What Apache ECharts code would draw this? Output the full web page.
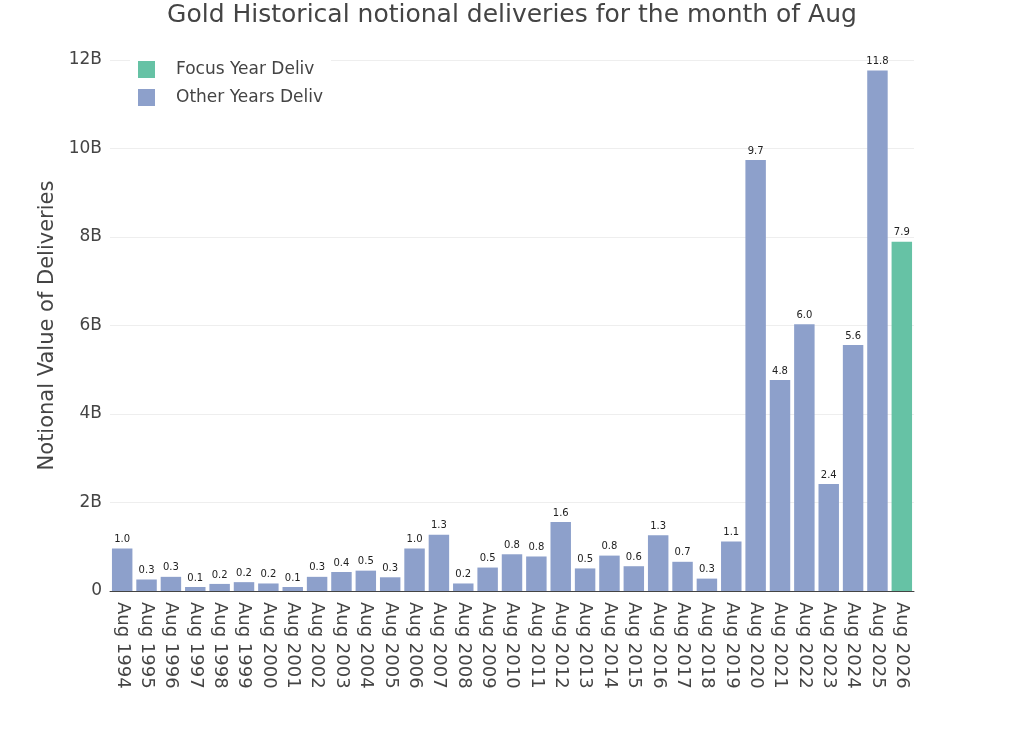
<!DOCTYPE html>
<html>
<head>
<meta charset="utf-8">
<script src="https://cdn.jsdelivr.net/npm/echarts@6/dist/echarts.min.js"></script>
<style>
  html, body { margin: 0; padding: 0; background: #fff; }
  #main { width: 1024px; height: 731px; }
</style>
</head>
<body>
<div id="main"></div>
<script>
// 年份与交割额（单位：十亿美元）
var years = ['Aug 1994', 'Aug 1995', 'Aug 1996', 'Aug 1997', 'Aug 1998', 'Aug 1999', 'Aug 2000',
    'Aug 2001', 'Aug 2002', 'Aug 2003', 'Aug 2004', 'Aug 2005', 'Aug 2006', 'Aug 2007', 'Aug 2008',
    'Aug 2009', 'Aug 2010', 'Aug 2011', 'Aug 2012', 'Aug 2013', 'Aug 2014', 'Aug 2015', 'Aug 2016',
    'Aug 2017', 'Aug 2018', 'Aug 2019', 'Aug 2020', 'Aug 2021', 'Aug 2022', 'Aug 2023', 'Aug 2024',
    'Aug 2025', 'Aug 2026'];

var otherYears = [0.96, 0.26, 0.32, 0.09, 0.16, 0.2, 0.17, 0.09, 0.32, 0.43, 0.46, 0.31, 0.96, 1.27,
    0.17, 0.53, 0.83, 0.78, 1.56, 0.51, 0.8, 0.56, 1.26, 0.66, 0.28, 1.12, 9.74, 4.77, 6.03, 2.42,
    5.56, 11.76, null];

var focusYear = [null, null, null, null, null, null, null, null, null, null, null, null, null, null,
    null, null, null, null, null, null, null, null, null, null, null, null, null, null, null, null,
    null, null, 7.89];

var yTicks = [0, 2, 4, 6, 8, 10, 12];

var myChart = echarts.init(document.getElementById('main'));

var barLabel = {
    show: true,
    position: 'top',
    distance: 4,
    fontSize: 10,
    color: '#222',
    fontFamily: 'DejaVu Sans',
    formatter: function (p) {
        return p.value == null ? '' : p.value.toFixed(1);
    }
};

var option = {
    animation: false,
    textStyle: { fontFamily: 'DejaVu Sans' },
    title: {
        text: 'Gold Historical notional deliveries for the month of Aug',
        left: 'center',
        top: -2,
        textStyle: { fontSize: 25, fontWeight: 'normal', color: '#444', fontFamily: 'DejaVu Sans' }
    },
    legend: {
        data: ['Focus Year Deliv', 'Other Years Deliv'],
        orient: 'vertical',
        left: 130,
        top: 58,
        backgroundColor: '#fff',
        padding: [3, 8, 4, 8],
        itemGap: 11,
        itemWidth: 17,
        itemHeight: 17,
        icon: 'rect',
        textStyle: { fontSize: 17, color: '#444', padding: [0, 0, 0, 16] }
    },
    grid: { left: 110, right: 110, top: 60, bottom: 140, containLabel: false },
    xAxis: {
        type: 'category',
        data: years,
        axisLine: { lineStyle: { color: '#444', width: 1 } },
        axisTick: { show: false },
        axisLabel: {
            rotate: -90,
            interval: 0,
            fontSize: 18,
            color: '#444',
            margin: 11
        }
    },
    yAxis: {
        type: 'value',
        min: yTicks[0],
        max: yTicks[yTicks.length - 1],
        interval: 2,
        name: 'Notional Value of Deliveries',
        nameLocation: 'middle',
        nameGap: 51,
        nameTextStyle: { fontSize: 21, color: '#444' },
        axisLine: { show: false },
        axisTick: { show: false },
        splitLine: { lineStyle: { color: '#eee' } },
        axisLabel: {
            fontSize: 17,
            color: '#444',
            margin: 8,
            formatter: function (v) { return v === 0 ? '0' : v + 'B'; }
        }
    },
    series: [
        {
            name: 'Focus Year Deliv',
            type: 'bar',
            stack: 'deliv',
            data: focusYear,
            barCategoryGap: '16%',
            itemStyle: { color: '#66c2a5' },
            label: barLabel
        },
        {
            name: 'Other Years Deliv',
            type: 'bar',
            stack: 'deliv',
            data: otherYears,
            barCategoryGap: '16%',
            itemStyle: { color: '#8da0cb' },
            label: barLabel
        }
    ]
};

myChart.setOption(option);
</script>
</body>
</html>
